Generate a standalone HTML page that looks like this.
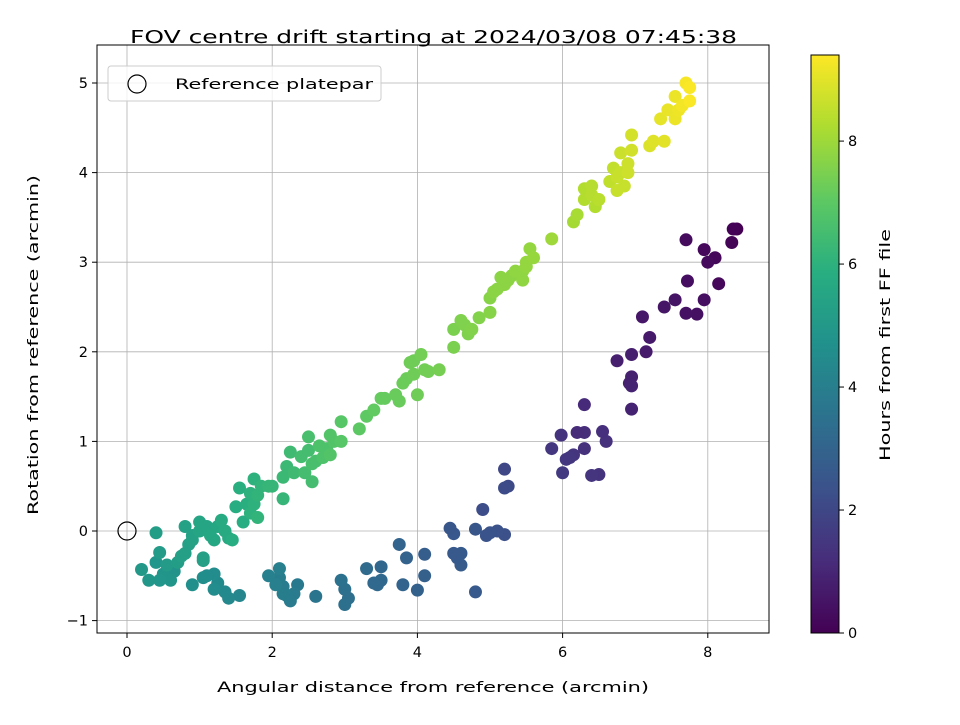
<!DOCTYPE html>
<html><head><meta charset="utf-8"><style>
body{margin:0;background:#fff;}
svg text{font-family:"DejaVu Sans","Liberation Sans",sans-serif;fill:#000;}
</style></head><body>
<svg id="chart" width="960" height="720" xmlns="http://www.w3.org/2000/svg">
<defs><linearGradient id="vir" x1="0" y1="1" x2="0" y2="0">
<stop offset="0" stop-color="#440154"/><stop offset="0.125" stop-color="#472d7b"/><stop offset="0.25" stop-color="#3b528b"/><stop offset="0.375" stop-color="#2c728e"/><stop offset="0.5" stop-color="#21918c"/><stop offset="0.625" stop-color="#28ae80"/><stop offset="0.75" stop-color="#5ec962"/><stop offset="0.875" stop-color="#addc30"/><stop offset="1" stop-color="#fde725"/>
</linearGradient></defs>
<rect x="0" y="0" width="960" height="720" fill="#fff"/>
<text x="433.5" y="43" font-size="17.5" text-anchor="middle" textLength="607" lengthAdjust="spacingAndGlyphs">FOV centre drift starting at 2024/03/08 07:45:38</text>
<g id="grid"></g>
<g id="pts"></g>
<rect x="97" y="45" width="672" height="588" fill="none" stroke="#000" stroke-width="1"/>
<g id="ticks"></g>
<text x="433" y="692" font-size="14.5" text-anchor="middle" textLength="432" lengthAdjust="spacingAndGlyphs">Angular distance from reference (arcmin)</text>
<text x="0" y="0" font-size="14.5" text-anchor="middle" textLength="340" lengthAdjust="spacingAndGlyphs" transform="translate(38,345) rotate(-90)">Rotation from reference (arcmin)</text>
<g>
<rect x="108" y="66" width="273" height="35" rx="3" fill="#fff" fill-opacity="0.8" stroke="#ccc"/>
<circle cx="137" cy="84" r="9" fill="none" stroke="#000" stroke-width="1.2"/>
<text x="175" y="89" font-size="14.5" textLength="198" lengthAdjust="spacingAndGlyphs">Reference platepar</text>
</g>
<rect x="811" y="55" width="28" height="578" fill="url(#vir)" stroke="#000" stroke-width="1"/>
<g id="cbticks"></g>
<text x="0" y="0" font-size="14.5" text-anchor="middle" textLength="232" lengthAdjust="spacingAndGlyphs" transform="translate(890,345) rotate(-90)">Hours from first FF file</text>
</svg>
<script>
const xTicks=[0,2,4,6,8];
const yTicks=[-1,0,1,2,3,4,5];
const cbTicks=[0,2,4,6,8];
const xs=[8.4,8.35,8.33,8.15,8.1,8.0,7.95,7.95,7.85,7.7,7.72,7.7,7.55,7.4,7.2,7.15,7.1,6.95,6.95,6.92,6.95,6.95,6.75,6.6,6.55,6.5,6.4,6.3,6.3,6.3,6.2,6.15,6.1,6.05,6.0,5.98,5.85,5.25,5.2,5.2,5.2,5.1,5.0,4.95,4.9,4.8,4.8,4.6,4.6,4.55,4.5,4.5,4.45,
4.1,4.1,4.0,3.85,3.8,3.75,3.5,3.5,3.45,3.4,3.3,3.05,3.0,3.0,2.95,2.6,2.35,2.3,2.25,2.2,2.15,2.15,2.1,2.1,2.05,1.95,1.55,1.4,1.35,1.25,1.2,1.2,1.1,1.05,0.9,0.65,0.6,0.5,0.45,0.4,0.3,0.2,
0.45,0.4,0.55,0.7,0.75,0.8,0.85,0.8,0.9,0.9,1.0,1.0,1.05,1.05,1.1,1.15,1.2,1.25,1.3,1.35,1.4,1.45,1.5,1.55,1.6,1.65,1.7,1.7,1.75,1.75,1.8,1.8,1.85,1.95,2.0,2.15,2.15,2.2,2.25,2.3,2.4,2.45,2.5,2.5,2.55,2.55,2.6,2.65,2.7,2.75,2.8,2.8,2.85,2.95,2.95,
3.2,3.3,3.4,3.5,3.55,3.75,3.7,3.8,3.85,3.9,3.95,3.95,4.0,4.05,4.1,4.15,4.3,4.5,4.5,4.6,4.65,4.7,4.75,4.85,5.0,5.0,5.05,5.1,5.15,5.2,5.25,5.3,5.35,5.45,5.45,5.5,5.5,5.55,5.6,5.85,
6.15,6.2,6.3,6.3,6.4,6.4,6.45,6.5,6.65,6.7,6.75,6.75,6.8,6.8,6.85,6.9,6.9,6.95,6.95,7.2,7.25,7.4,7.35,7.45,7.55,7.55,7.6,7.65,7.7,7.75,7.75];
const ys=[3.37,3.37,3.22,2.76,3.05,3.0,3.14,2.58,2.42,3.25,2.79,2.43,2.58,2.5,2.16,2.0,2.39,1.97,1.72,1.65,1.62,1.36,1.9,1.0,1.11,0.63,0.62,1.41,1.1,0.92,1.1,0.85,0.82,0.8,0.65,1.07,0.92,0.5,0.48,0.69,-0.04,0.0,-0.02,-0.05,0.24,0.02,-0.68,-0.38,-0.25,-0.3,-0.25,-0.03,0.03,
-0.26,-0.5,-0.66,-0.3,-0.6,-0.15,-0.4,-0.55,-0.6,-0.58,-0.42,-0.75,-0.82,-0.65,-0.55,-0.73,-0.6,-0.7,-0.78,-0.72,-0.62,-0.7,-0.52,-0.42,-0.6,-0.5,-0.72,-0.75,-0.68,-0.58,-0.65,-0.48,-0.5,-0.52,-0.6,-0.45,-0.55,-0.48,-0.55,-0.35,-0.55,-0.43,
-0.24,-0.02,-0.38,-0.35,-0.28,0.05,-0.15,-0.25,-0.1,-0.05,0.1,0.0,-0.3,-0.33,0.05,-0.05,-0.1,0.05,0.12,0.0,-0.08,-0.1,0.27,0.48,0.1,0.3,0.2,0.42,0.58,0.3,0.15,0.4,0.5,0.5,0.5,0.36,0.6,0.72,0.88,0.65,0.83,0.65,0.9,1.05,0.55,0.75,0.78,0.95,0.82,0.92,1.07,0.85,1.0,1.0,1.22,
1.14,1.28,1.35,1.48,1.48,1.45,1.52,1.65,1.7,1.88,1.75,1.9,1.52,1.97,1.8,1.78,1.8,2.05,2.25,2.35,2.3,2.2,2.25,2.38,2.44,2.6,2.67,2.7,2.83,2.75,2.8,2.85,2.9,2.8,2.9,2.95,3.0,3.15,3.05,3.26,
3.45,3.53,3.82,3.7,3.75,3.85,3.62,3.7,3.9,4.05,3.95,3.8,4.0,4.22,3.85,4.1,4.0,4.25,4.42,4.3,4.35,4.35,4.6,4.7,4.85,4.6,4.7,4.75,5.0,4.95,4.8];
const hours=[0.0,0.05,0.1,0.2,0.15,0.25,0.2,0.35,0.4,0.3,0.35,0.45,0.5,0.55,0.65,0.7,0.6,0.8,0.85,0.85,0.9,0.9,0.8,1.3,1.25,1.35,1.4,1.1,1.2,1.3,1.15,1.4,1.45,1.5,1.55,1.35,1.5,2.1,2.15,2.0,2.3,2.35,2.4,2.4,2.2,2.5,2.6,2.7,2.65,2.65,2.6,2.55,2.5,
2.8,2.85,2.9,2.95,3.0,3.0,3.1,3.15,3.2,3.2,3.25,3.4,3.45,3.45,3.5,3.6,3.8,3.85,3.85,3.9,3.9,3.95,3.95,4.0,4.0,4.05,4.3,4.35,4.4,4.45,4.5,4.5,4.55,4.6,4.65,4.8,4.85,4.85,4.9,4.9,4.95,5.0,
5.1,5.2,5.1,5.2,5.3,5.4,5.3,5.3,5.4,5.4,5.5,5.5,5.3,5.3,5.5,5.6,5.6,5.6,5.7,5.7,5.7,5.8,5.8,5.9,5.8,5.9,6.0,6.0,6.0,6.0,6.1,6.1,6.1,6.2,6.2,6.2,6.3,6.3,6.4,6.4,6.5,6.5,6.5,6.6,6.5,6.6,6.6,6.7,6.7,6.7,6.8,6.8,6.8,6.9,6.9,
7.0,7.05,7.1,7.15,7.15,7.2,7.2,7.25,7.25,7.3,7.3,7.3,7.3,7.35,7.35,7.35,7.4,7.5,7.5,7.55,7.55,7.55,7.6,7.6,7.65,7.65,7.7,7.7,7.7,7.75,7.75,7.75,7.8,7.8,7.8,7.85,7.85,7.85,7.9,8.0,
8.1,8.15,8.3,8.3,8.35,8.35,8.3,8.4,8.5,8.55,8.6,8.6,8.6,8.65,8.6,8.7,8.7,8.75,8.8,8.9,8.95,9.0,9.05,9.1,9.15,9.15,9.2,9.25,9.3,9.35,9.35];
const refPoint=[0,0];

const NS="http://www.w3.org/2000/svg";
const X=v=>127+v*72.6;
const Y=v=>531-v*89.6;
const HMAX=9.4;
const CB=h=>633-h*(578/HMAX);
const V=[[68,1,84],[71,45,123],[59,82,139],[44,114,142],[33,145,140],[40,174,128],[94,201,98],[173,220,48],[253,231,37]];
function vir(t){t=Math.max(0,Math.min(1,t));const p=t*8,i=Math.min(7,Math.floor(p)),f=p-i;
const c=V[i].map((a,k)=>Math.round(a+(V[i+1][k]-a)*f));return `rgb(${c})`;}
function mk(tag,attrs,parent){const e=document.createElementNS(NS,tag);for(const k in attrs)e.setAttribute(k,attrs[k]);parent.appendChild(e);return e;}
const grid=document.getElementById('grid'),ticks=document.getElementById('ticks'),pts=document.getElementById('pts'),cbt=document.getElementById('cbticks');
xTicks.forEach(v=>{
 const l=mk('line',{x1:X(v),x2:X(v),y1:45,y2:633,stroke:'#b0b0b0','stroke-width':0.8},grid);
 
 
 const t=mk('line',{x1:X(v),x2:X(v),y1:633,y2:638,stroke:'#000'},ticks);
 
 
 const s=mk('text',{x:X(v),y:657,'font-size':14.5,'text-anchor':'middle'},ticks);s.textContent=v;
 
 
});
yTicks.forEach(v=>{
 const l=mk('line',{x1:97,x2:769,y1:Y(v),y2:Y(v),stroke:'#b0b0b0','stroke-width':0.8},grid);
 
 
 const t=mk('line',{x1:92,x2:97,y1:Y(v),y2:Y(v),stroke:'#000'},ticks);
 
 
 const s=mk('text',{x:88,y:Y(v)+5,'font-size':14.5,'text-anchor':'end'},ticks);s.textContent=v<0?'\u22121':v;
 
 
});
cbTicks.forEach(v=>{
 const t=mk('line',{x1:839,x2:844,y1:CB(v),y2:CB(v),stroke:'#000'},cbt);
 
 
 const s=mk('text',{x:848,y:CB(v)+5,'font-size':14.5},cbt);s.textContent=v;
 
 
});
xs.forEach((x,i)=>{
 const c=mk('circle',{cx:X(x),cy:Y(ys[i]),r:6.5,fill:vir((hours[i]||0)/HMAX)},pts);
 
 
});
const r=mk('circle',{cx:X(refPoint[0]),cy:Y(refPoint[1]),r:9,fill:'none',stroke:'#000','stroke-width':1.2},pts);


</script>
</body></html>
